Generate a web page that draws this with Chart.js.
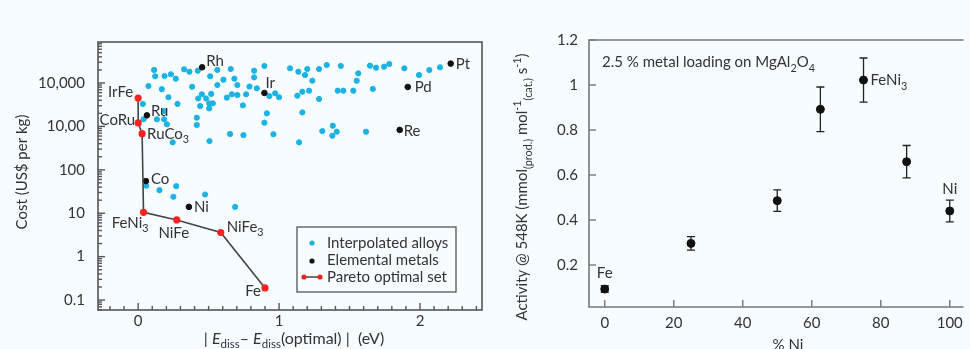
<!DOCTYPE html>
<html>
<head>
<meta charset="utf-8">
<script src="https://cdn.jsdelivr.net/npm/chart.js@4.4.0/dist/chart.umd.min.js"></script>
<style>
  html, body { margin: 0; padding: 0; background: #f6fcff; }
  #wrap { position: relative; width: 970px; height: 349px; overflow: hidden; }
  #left { position: absolute; left: 0; top: 0; }
  #right { position: absolute; left: 495px; top: 0; }
</style>
</head>
<body>
<div id="wrap">
  <canvas id="left" width="495" height="349"></canvas>
  <canvas id="right" width="475" height="349"></canvas>
</div>
<script>
// ---- left panel data: cost vs |Ediss - Ediss(optimal)| ----
const alloyX = [0.113, 0.121, 0.187, 0.232, 0.267, 0.326, 0.364, 0.423, 0.511, 0.562, 0.657, 0.605, 0.683, 0.704,
  0.073, 0.168, 0.383, 0.562, 0.215, 0.452, 0.518, 0.426, 0.482, 0.629, 0.665, 0.704, 0.033, 0.279, 0.440, 0.504,
  0.530, 0.743, 0.504, 0.184, 0.038, 0.133, 0.184, 0.416, 0.416, 0.204, 0.245, 0.506, 0.652, 0.747, 0.790,
  0.896, 0.823, 0.823, 0.842, 0.766, 0.931, 0.972, 1.000, 1.078, 1.137, 1.200, 1.184, 1.236, 1.284, 1.338, 1.438,
  1.562, 1.551, 1.130, 1.165, 1.213, 1.284, 1.416, 1.456, 1.527, 0.913, 1.165, 0.896, 0.960, 1.142, 1.381, 1.307,
  1.409, 1.378, 1.645, 1.688, 1.745, 1.782, 1.889, 1.993, 2.066, 2.142, 1.665, 1.617,
  0.057, 0.151, 0.270, 0.250, 0.475, 0.688];
const alloyCost = [20000, 14300, 14500, 15900, 12600, 20700, 18200, 19200, 14300, 20000, 21000, 11900, 12600, 9000,
  8500, 7200, 8200, 9000, 4700, 5500, 5600, 4400, 4400, 4600, 5500, 5300, 3300, 3300, 2950, 3400,
  3400, 3060, 2600, 2260, 1460, 1460, 1460, 1590, 1080, 1120, 430, 460, 670, 630, 8300,
  24700, 19200, 13500, 7550, 5490, 5000, 5800, 4700, 21800, 18200, 21000, 15300, 11300, 21000, 26000, 24700,
  16700, 11300, 5100, 6300, 6650, 4280, 6650, 6650, 6650, 2000, 2100, 1220, 660, 430, 1040, 780,
  755, 610, 25100, 22500, 23800, 27400, 21800, 15300, 19900, 23000, 7300, 755,
  43, 34, 42, 24, 27, 14];

const metalNames = ['Rh', 'Ir', 'Ru', 'Co', 'Ni', 'Pt', 'Pd', 'Re'];
const metalX = [0.454, 0.896, 0.062, 0.055, 0.360, 2.218, 1.913, 1.856];
const metalCost = [23000, 5900, 1800, 55, 14, 28000, 8100, 830];

const paretoNames = ['IrFe', 'CoRu', 'RuCo_{3}', 'FeNi_{3}', 'NiFe', 'NiFe_{3}', 'Fe'];
const paretoX = [0.0, 0.0, 0.028, 0.038, 0.274, 0.586, 0.90];
const paretoCost = [4500, 1200, 680, 10.5, 7, 3.6, 0.19];

const costTickValues = [0.1, 1, 10, 100, 1000, 10000];
const costTickLabels = ['0.1', '1', '10', '100', '10,00', '10,000'];
const ediffTickValues = [0, 1, 2];
const ediffTickLabels = ['0', '1', '2'];

// ---- right panel data: activity vs % Ni ----
const niPercent = [0, 25, 50, 62.5, 75, 87.5, 100];
const activity = [0.093, 0.296, 0.486, 0.892, 1.022, 0.659, 0.44];
const activityErr = [0.015, 0.03, 0.048, 0.099, 0.098, 0.072, 0.048];
const activityLabels = ['Fe', '', '', '', 'FeNi_{3}', '', 'Ni'];
const actTickValues = [0.2, 0.4, 0.6, 0.8, 1, 1.2];
const actTickLabels = ['0.2', '0.4', '0.6', '0.8', '1', '1.2'];
const niTickValues = [0, 20, 40, 60, 80, 100];

// ---- styling ----
const FONT = 'Lato';
const TEXT = '#333';
const AXIS = '#555';
const CYAN = '#1bb2e4';
const RED = '#ff2222';

function labelFor(values, labels) {
    return v => {
        const i = values.findIndex(t => Math.abs(t - v) < 1e-9 * Math.max(1, Math.abs(t)));
        return i >= 0 ? labels[i] : '';
    };
}

// text with *italic*, _{sub} and ^{sup}
function drawRich(ctx, str, x, y, size, align) {
    const parts = str.split(/(\*[^*]+\*|_\{[^}]*\}|\^\{[^}]*\})/).filter(s => s);
    const segs = parts.map(p => {
        if (p[0] === '*') return { t: p.slice(1, -1), size, style: 'italic ', dy: 0 };
        if (p[0] === '_') return { t: p.slice(2, -1), size: size * 0.72, style: '', dy: size * 0.28 };
        if (p[0] === '^') return { t: p.slice(2, -1), size: size * 0.72, style: '', dy: -size * 0.4 };
        return { t: p, size, style: '', dy: 0 };
    });
    let total = 0;
    segs.forEach(s => {
        ctx.font = `${s.style}${s.size}px ${FONT}`;
        s.w = ctx.measureText(s.t).width;
        total += s.w;
    });
    let cx = align === 'center' ? x - total / 2 : align === 'right' ? x - total : x;
    ctx.fillStyle = TEXT;
    ctx.textAlign = 'left';
    ctx.textBaseline = 'alphabetic';
    const base = y + size * 0.36;
    segs.forEach(s => {
        ctx.font = `${s.style}${s.size}px ${FONT}`;
        ctx.fillText(s.t, cx, base + s.dy);
        cx += s.w;
    });
}

function drawRotated(ctx, str, x, y, size) {
    ctx.save();
    ctx.translate(x, y);
    ctx.rotate(-Math.PI / 2);
    drawRich(ctx, str, 0, 0, size, 'center');
    ctx.restore();
}

// inward tick marks
function drawTicks(ctx, chart, majorX, majorY, color) {
    const { left, right, top, bottom } = chart.chartArea;
    const xs = chart.scales.x, ys = chart.scales.y;
    ctx.save();
    ctx.strokeStyle = color;
    ctx.lineWidth = 1.4;
    xs.ticks.forEach(t => {
        const px = xs.getPixelForValue(t.value);
        if (px < left - 0.5 || px > right + 0.5) return;
        const len = majorX.some(m => Math.abs(m - t.value) < 1e-9) ? 7 : 4;
        ctx.beginPath(); ctx.moveTo(px, bottom); ctx.lineTo(px, bottom - len); ctx.stroke();
    });
    ys.ticks.forEach(t => {
        const py = ys.getPixelForValue(t.value);
        if (py < top - 0.5 || py > bottom + 0.5) return;
        const len = majorY.some(m => Math.abs(m - t.value) < 1e-9 * Math.max(1, m)) ? 7 : 4;
        ctx.beginPath(); ctx.moveTo(left, py); ctx.lineTo(left + len, py); ctx.stroke();
    });
    ctx.restore();
}

// ---- left chart ----
const leftXTicks = [];
for (let i = -2; i <= 24; i++) leftXTicks.push(Math.round(i) / 10);
const leftYTicks = [];
for (let n = -2; n <= 4; n++) {
    for (let k = 1; k <= 9; k++) leftYTicks.push(Number((k * Math.pow(10, n)).toPrecision(6)));
}

const leftLabelPos = {
    'IrFe': [-5, -6, 'right'], 'CoRu': [-3, -3, 'right'], 'RuCo_{3}': [5, 0, 'left'],
    'FeNi_{3}': [5, 10, 'right'], 'NiFe': [-3, 13, 'center'], 'NiFe_{3}': [6, -6, 'left'], 'Fe': [-4, 3, 'right'],
    'Rh': [4, -7, 'left'], 'Ir': [1, -10, 'left'], 'Ru': [4, -5, 'left'], 'Co': [5, -2, 'left'],
    'Ni': [5, 0, 'left'], 'Pt': [5, 0, 'left'], 'Pd': [7, 0, 'left'], 'Re': [4, 1, 'left']
};

const leftDecor = {
    id: 'leftDecor',
    beforeDatasetsDraw(chart) {
        const ctx = chart.ctx;
        const { left, right, top, bottom } = chart.chartArea;
        ctx.save();
        ctx.strokeStyle = AXIS;
        ctx.lineWidth = 1.6;
        ctx.strokeRect(left, top, right - left, bottom - top);
        ctx.restore();
        drawTicks(ctx, chart, ediffTickValues, costTickValues, AXIS);
    },
    afterDatasetsDraw(chart) {
        const ctx = chart.ctx;
        const xs = chart.scales.x, ys = chart.scales.y;
        const put = (name, x, y) => {
            const p = leftLabelPos[name];
            drawRich(ctx, name, xs.getPixelForValue(x) + p[0], ys.getPixelForValue(y) + p[1], 15, p[2]);
        };
        paretoNames.forEach((n, i) => put(n, paretoX[i], paretoCost[i]));
        metalNames.forEach((n, i) => put(n, metalX[i], metalCost[i]));

        // legend box
        const { right, bottom } = chart.chartArea;
        const bx = right - 185, by = bottom - 83, bw = 159, bh = 65;
        ctx.save();
        ctx.fillStyle = '#f6fcff';
        ctx.fillRect(bx, by, bw, bh);
        ctx.strokeStyle = AXIS;
        ctx.lineWidth = 1.3;
        ctx.strokeRect(bx, by, bw, bh);
        const mx = bx + 15;
        ctx.fillStyle = CYAN;
        ctx.beginPath(); ctx.arc(mx, by + 16, 2.6, 0, Math.PI * 2); ctx.fill();
        ctx.fillStyle = '#111';
        ctx.beginPath(); ctx.arc(mx, by + 34, 2.6, 0, Math.PI * 2); ctx.fill();
        ctx.strokeStyle = '#444';
        ctx.lineWidth = 1.5;
        ctx.beginPath(); ctx.moveTo(bx + 7, by + 50); ctx.lineTo(bx + 23, by + 50); ctx.stroke();
        ctx.fillStyle = RED;
        [bx + 7, bx + 23].forEach(x => { ctx.beginPath(); ctx.arc(x, by + 50, 2.6, 0, Math.PI * 2); ctx.fill(); });
        ctx.restore();
        drawRich(ctx, 'Interpolated alloys', bx + 30, by + 16, 15, 'left');
        drawRich(ctx, 'Elemental metals', bx + 30, by + 33, 15, 'left');
        drawRich(ctx, 'Pareto optimal set', bx + 30, by + 50, 15, 'left');

        // axis titles
        drawRotated(ctx, 'Cost (US$ per kg)', 22, 172, 15);
        drawRich(ctx, '| *E*_{diss}\u2013 *E*_{diss}(optimal) |  (eV)', 294, 338, 16, 'center');
    }
};

new Chart(document.getElementById('left'), {
    type: 'scatter',
    data: {
        datasets: [
            {
                label: 'Pareto optimal set',
                data: paretoX.map((x, i) => ({ x, y: paretoCost[i] })),
                showLine: true,
                borderColor: '#444',
                borderWidth: 1.6,
                pointBackgroundColor: RED,
                pointBorderColor: RED,
                pointRadius: 2.8,
                order: 1
            },
            {
                label: 'Elemental metals',
                data: metalX.map((x, i) => ({ x, y: metalCost[i] })),
                pointBackgroundColor: '#111',
                pointBorderColor: '#111',
                pointRadius: 2.8,
                order: 2
            },
            {
                label: 'Interpolated alloys',
                data: alloyX.map((x, i) => ({ x, y: alloyCost[i] })),
                pointBackgroundColor: CYAN,
                pointBorderColor: CYAN,
                pointRadius: 2.6,
                order: 3
            }
        ]
    },
    options: {
        responsive: false,
        animation: false,
        devicePixelRatio: 1,
        layout: { padding: { top: 42, right: 13, left: 0, bottom: 0 } },
        plugins: { legend: { display: false }, tooltip: { enabled: false } },
        scales: {
            x: {
                type: 'linear',
                min: -0.285,
                max: 2.44,
                afterBuildTicks: s => { s.ticks = leftXTicks.map(v => ({ value: v })); },
                afterFit: s => { s.height = 39; },
                grid: { display: false, drawTicks: false },
                border: { display: false },
                ticks: {
                    autoSkip: false, maxRotation: 0, padding: 2, color: TEXT,
                    font: { family: FONT, size: 15 },
                    callback: labelFor(ediffTickValues, ediffTickLabels)
                }
            },
            y: {
                type: 'logarithmic',
                min: 0.059,
                max: 88000,
                afterBuildTicks: s => { s.ticks = leftYTicks.filter(v => v >= 0.059 && v <= 88000).map(v => ({ value: v })); },
                afterFit: s => { s.width = 98; },
                grid: { display: false, drawTicks: false },
                border: { display: false },
                ticks: {
                    autoSkip: false, padding: 13, color: TEXT,
                    font: { family: FONT, size: 15 },
                    callback: labelFor(costTickValues, costTickLabels)
                }
            }
        }
    },
    plugins: [leftDecor]
});

// ---- right chart ----
const rightLabelPos = { 'Fe': [0, -16, 'center'], 'FeNi_{3}': [7, 0, 'left'], 'Ni': [0, -22, 'center'] };

const rightDecor = {
    id: 'rightDecor',
    beforeDatasetsDraw(chart) {
        const ctx = chart.ctx;
        const { left, right, top, bottom } = chart.chartArea;
        ctx.save();
        ctx.strokeStyle = '#777';
        ctx.lineWidth = 1.6;
        ctx.beginPath();
        ctx.moveTo(right, top); ctx.lineTo(left, top); ctx.lineTo(left, bottom); ctx.lineTo(right, bottom);
        ctx.stroke();
        ctx.restore();
        drawTicks(ctx, chart, niTickValues, actTickValues, '#777');

        // error bars
        const xs = chart.scales.x, ys = chart.scales.y;
        ctx.save();
        ctx.strokeStyle = '#222';
        ctx.lineWidth = 1.3;
        niPercent.forEach((n, i) => {
            const px = xs.getPixelForValue(n);
            const y1 = ys.getPixelForValue(activity[i] + activityErr[i]);
            const y2 = ys.getPixelForValue(activity[i] - activityErr[i]);
            ctx.beginPath();
            ctx.moveTo(px, y1); ctx.lineTo(px, y2);
            ctx.moveTo(px - 4, y1); ctx.lineTo(px + 4, y1);
            ctx.moveTo(px - 4, y2); ctx.lineTo(px + 4, y2);
            ctx.stroke();
        });
        ctx.restore();
    },
    afterDatasetsDraw(chart) {
        const ctx = chart.ctx;
        const xs = chart.scales.x, ys = chart.scales.y;
        activityLabels.forEach((name, i) => {
            if (!name) return;
            const p = rightLabelPos[name];
            drawRich(ctx, name, xs.getPixelForValue(niPercent[i]) + p[0], ys.getPixelForValue(activity[i]) + p[1], 15, p[2]);
        });
        drawRich(ctx, '2.5 % metal loading on MgAl_{2}O_{4}', 107, 62, 15, 'left');
        drawRotated(ctx, 'Activity @ 548K (mmol_{(prod.)} mol^{-1}_{(cat.)} s^{-1})', 27, 187, 15);
        drawRich(ctx, '% Ni', 293, 345, 15, 'center');
    }
};

new Chart(document.getElementById('right'), {
    type: 'scatter',
    data: {
        datasets: [{
            label: 'Activity',
            data: niPercent.map((x, i) => ({ x, y: activity[i] })),
            pointBackgroundColor: '#111',
            pointBorderColor: '#111',
            pointRadius: 4
        }]
    },
    options: {
        responsive: false,
        animation: false,
        devicePixelRatio: 1,
        layout: { padding: { top: 40, right: 0, left: 0, bottom: 0 } },
        plugins: { legend: { display: false }, tooltip: { enabled: false } },
        scales: {
            x: {
                type: 'linear',
                min: -4.56,
                max: 104,
                afterBuildTicks: s => { s.ticks = niTickValues.map(v => ({ value: v })); },
                afterFit: s => { s.height = 42; },
                grid: { display: false, drawTicks: false },
                border: { display: false },
                ticks: { autoSkip: false, maxRotation: 0, padding: 7, color: TEXT, font: { family: FONT, size: 15 } }
            },
            y: {
                type: 'linear',
                min: 0.0133,
                max: 1.2,
                afterBuildTicks: s => { s.ticks = actTickValues.map(v => ({ value: v })); },
                afterFit: s => { s.width = 94; },
                grid: { display: false, drawTicks: false },
                border: { display: false },
                ticks: {
                    autoSkip: false, padding: 11, color: TEXT,
                    font: { family: FONT, size: 15 },
                    callback: labelFor(actTickValues, actTickLabels)
                }
            }
        }
    },
    plugins: [rightDecor]
});
</script>
</body>
</html>
